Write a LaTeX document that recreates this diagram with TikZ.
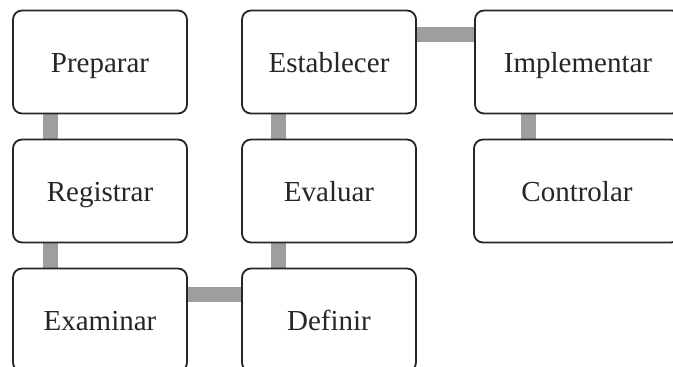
\documentclass[tikz,border=0pt]{standalone}
\usepackage{fontspec}
\setmainfont{Liberation Serif}
\usetikzlibrary{calc,backgrounds}
\begin{document}
\begin{tikzpicture}[x=1pt,y=-1pt,
  stepbox/.style={draw=black!85, line width=1.8pt, rounded corners=9pt, fill=white,
    inner sep=0pt, minimum width=174pt, minimum height=103pt,
    text height=20pt, text depth=0pt,
    font=\fontsize{29}{34}\selectfont, text=black!85},
  widebox/.style={stepbox, minimum width=206pt},
  conn/.style={draw=black!38, line width=15pt}]
\useasboundingbox (0,0) rectangle (673,367);
\clip (0,0) rectangle (673,367);
\node[stepbox] (prep) at (100,62) {Preparar};
\node[stepbox] (reg)  at (100,191) {Registrar};
\node[stepbox] (exam) at (100,320) {Examinar};
\node[stepbox] (est)  at (329,62) {Establecer};
\node[stepbox] (eval) at (329,191) {Evaluar};
\node[stepbox] (def)  at (329,320) {Definir};
\node[widebox] (impl) at (578,62) {Implementar};
\node[widebox] (ctrl) at (577,191) {Controlar};
\begin{scope}[on background layer]
  \draw[conn] ($(prep.south west)+(38,0)$) -- ($(reg.north west)+(38,0)$);
  \draw[conn] ($(reg.south west)+(38,0)$) -- ($(exam.north west)+(38,0)$);
  \draw[conn] ($(exam.north east)+(0,27)$) -- ($(def.north west)+(0,27)$);
  \draw[conn] ($(def.north west)+(37,0)$) -- ($(eval.south west)+(37,0)$);
  \draw[conn] ($(eval.north west)+(37,0)$) -- ($(est.south west)+(37,0)$);
  \draw[conn] ($(est.north east)+(0,25)$) -- ($(impl.north west)+(0,25)$);
  \draw[conn] ($(impl.south west)+(54,0)$) -- ($(ctrl.north west)+(55,0)$);
\end{scope}
\end{tikzpicture}
\end{document}
